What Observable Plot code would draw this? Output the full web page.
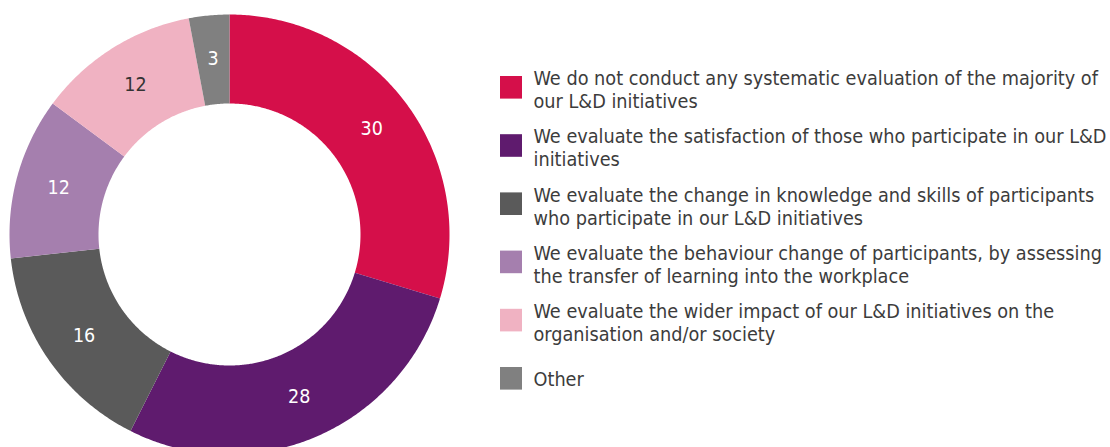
<!DOCTYPE html>
<html><head><meta charset="utf-8">
<script src="https://cdn.jsdelivr.net/npm/d3@7"></script>
<script src="https://cdn.jsdelivr.net/npm/@observablehq/plot@0.6"></script>
<style>
body{margin:0;background:#fff;}
#chart svg{display:block;}
</style></head><body><div id="chart"></div>
<script>
const categories = [
  "We do not conduct any systematic evaluation of the majority of\nour L&D initiatives",
  "We evaluate the satisfaction of those who participate in our L&D\ninitiatives",
  "We evaluate the change in knowledge and skills of participants\nwho participate in our L&D initiatives",
  "We evaluate the behaviour change of participants, by assessing\nthe transfer of learning into the workplace",
  "We evaluate the wider impact of our L&D initiatives on the\norganisation and/or society",
  "Other"
];
const values = [30, 28, 16, 12, 12, 3];
const colors = ["#d50f4a", "#5f1b6e", "#5a5a5a", "#a57fae", "#f0b2c2", "#808080"];
const darkLabel = [false, false, false, false, true, false];

const W = 1110, H = 447;
const cx = 229, cy = 234, R = 220, R0 = 131, RL = 177;
const FONT = "'DejaVu Sans Condensed','DejaVu Sans',sans-serif";

const total = d3.sum(values);
let acc = 0;
const slices = values.map((v, i) => {
  const a0 = acc / total * 2 * Math.PI; acc += v;
  const a1 = acc / total * 2 * Math.PI;
  const am = (a0 + a1) / 2;
  return {i, cat: categories[i], value: v, a0, a1,
          lx: cx + RL * Math.sin(am), ly: cy - RL * Math.cos(am), dark: darkLabel[i]};
});
const pts = [];
for (const s of slices) {
  const n = Math.max(2, Math.ceil((s.a1 - s.a0) / (Math.PI / 360)));
  for (let k = 0; k <= n; k++) {
    const a = s.a0 + (s.a1 - s.a0) * k / n;
    pts.push({cat: s.cat, x: cx + R * Math.sin(a), y: cy - R * Math.cos(a)});
  }
  for (let k = n; k >= 0; k--) {
    const a = s.a0 + (s.a1 - s.a0) * k / n;
    pts.push({cat: s.cat, x: cx + R0 * Math.sin(a), y: cy - R0 * Math.cos(a)});
  }
}
const legend = categories.map((c, i) => {
  const yc = 87.3 + i * 58.2;
  return {cat: c, x1: 500, x2: 522, y1: yc - 11.3, y2: yc + 11.3, tx: 533,
          ty: yc + (c.includes("\n") ? 1.5 : 0)};
});

const chart = Plot.plot({
  width: W, height: H, margin: 0,
  x: {domain: [0, W], range: [0, W], axis: null},
  y: {domain: [0, H], range: [0, H], axis: null},
  color: {domain: categories, range: colors},
  style: {fontFamily: FONT, background: "#fff"},
  marks: [
    Plot.line(pts, {x: "x", y: "y", z: "cat", fill: "cat", stroke: null, curve: "linear-closed"}),
    Plot.text(slices.filter(d => !d.dark), {x: "lx", y: "ly", text: d => String(d.value), fill: "#ffffff", fontSize: 19.5}),
    Plot.text(slices.filter(d => d.dark), {x: "lx", y: "ly", text: d => String(d.value), fill: "#333333", fontSize: 19.5}),
    Plot.rect(legend, {x1: "x1", x2: "x2", y1: "y1", y2: "y2", fill: "cat"}),
    Plot.text(legend, {x: "tx", y: "ty", text: "cat", textAnchor: "start", fill: "#3c3c3c", fontSize: 19.7, lineHeight: 1.17})
  ]
});
document.getElementById("chart").appendChild(chart);
</script></body></html>
